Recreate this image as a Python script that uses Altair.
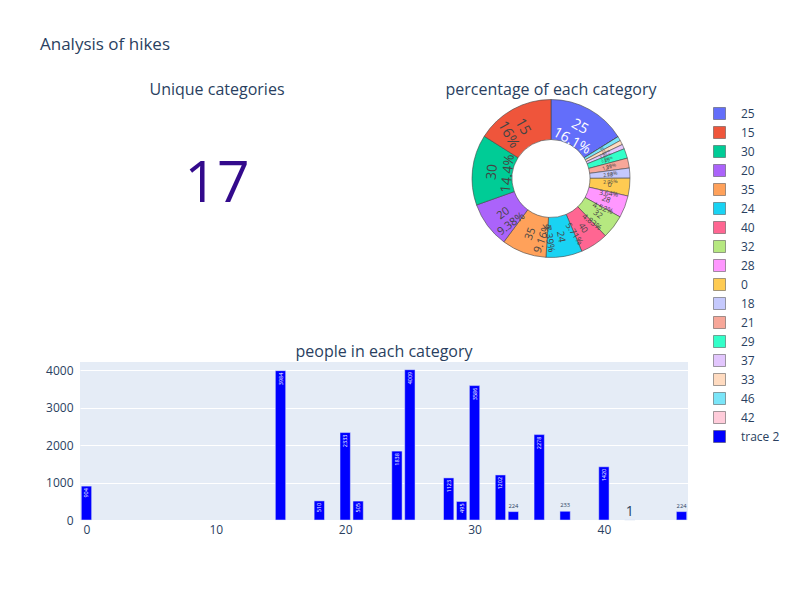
import math
import altair as alt
import pandas as pd

# ---------------- data ----------------
categories = [0, 15, 18, 20, 21, 24, 25, 28, 29, 30, 32, 33, 35, 37, 40, 42, 46]
people = [904, 3984, 510, 2333, 505, 1838, 4009, 1123, 495, 3586, 1202, 224, 2278, 233, 1420, 1, 224]

x_ticks = [0, 10, 20, 30, 40]
y_ticks = [0, 1000, 2000, 3000, 4000]

# plotly colorway + extended (lightened) pie colours, in legend order
pie_colors = ["#636efa", "#EF553B", "#00cc96", "#ab63fa", "#FFA15A", "#19d3f3",
              "#FF6692", "#B6E880", "#FF97FF", "#FECB52", "#c5c9fd", "#f7a799",
              "#33ffc9", "#e2c6fd", "#ffdbc0", "#7ae5f8", "#ffccda"]
bar_color = "#0000ff"
bar_series = "trace 2"

FONT = "Open Sans"
TXT = "#2a3f5f"
TANGENTIAL = {"25", "30"}

# ---------------- derived tables ----------------
df = pd.DataFrame({"cat": categories, "people": people})
df["label"] = df["cat"].astype(str)
total = df["people"].sum()

desc = df.sort_values("people", ascending=False, kind="stable").reset_index(drop=True)
legend_order = desc["label"].tolist()
clockwise = [legend_order[0]] + legend_order[1:][::-1]

pie = df.copy()
pie["ord"] = pie["label"].map({lab: i for i, lab in enumerate(clockwise)})
pie = pie.sort_values("ord").reset_index(drop=True)
pie["frac"] = pie["people"] / total
cum = pie["frac"].cumsum() - pie["frac"]
mid = (cum + pie["frac"] / 2) * 360.0


def norm(a):
    a = a % 360
    if a > 90 and a <= 270:
        a -= 180
    if a > 270:
        a -= 360
    return a % 360


rots = []
for lab, phi in zip(pie["label"], mid):
    rot = phi if lab in TANGENTIAL else phi - 90
    rots.append(norm(rot))
pie["rot"] = rots
pie["fs"] = 36 * pie["frac"].pow(0.5)
pie["txt"] = [f"{lab}\n{p * 100:.3g}%" for lab, p in zip(pie["label"], pie["frac"])]
col_of = dict(zip(legend_order, pie_colors))


def is_dark(hexc):
    h = hexc.lstrip("#")
    r, g, b = int(h[0:2], 16), int(h[2:4], 16), int(h[4:6], 16)
    return (r * 299 + g * 587 + b * 114) / 1000 < 128


pie["dark"] = [1 if is_dark(col_of[lab]) else 0 for lab in pie["label"]]

bar_df = df.copy()
bar_df["ltxt"] = bar_df["people"].astype(str)
bar_df["ofs"] = [min(14.0, 10.4 / (0.6 * len(s))) for s in bar_df["ltxt"]]

ind_df = pd.DataFrame({"n": [len(categories)]})

# panel geometry (top row is one 608 x 157 view holding both panels)
TOP_W, TOP_H = 608, 157
IND_CX = 137          # centre of the indicator panel
PIE_CX = 471          # centre of the pie panel
PIE_CY = 78.5


def panel_title(text, cx):
    return alt.Chart(ind_df).mark_text(
        text=text, fontSize=16, font=FONT, color=TXT, align="center",
        baseline="alphabetic"
    ).encode(x=alt.value(cx), y=alt.value(-5))


# ---------------- indicator ----------------
indicator = alt.Chart(ind_df).mark_text(
    fontSize=57, font=FONT, color="#330a8c", align="center", baseline="alphabetic"
).encode(text="n:Q", x=alt.value(IND_CX), y=alt.value(102))

# ---------------- pie ----------------
theta = alt.Theta("people:Q", stack=True)
order = alt.Order("ord:Q")
arcs = alt.Chart(pie).mark_arc(innerRadius=39, outerRadius=79, stroke="#444",
                               strokeWidth=0.6).encode(
    theta=theta, order=order,
    x=alt.value(PIE_CX), y=alt.value(PIE_CY),
    color=alt.Color("label:N",
                    scale=alt.Scale(domain=legend_order + [bar_series],
                                    range=pie_colors + [bar_color]),
                    legend=alt.Legend(title=None, orient="none", legendX=633, legendY=7,
                                      symbolType="square", symbolSize=144,
                                      symbolStrokeColor="#444", symbolStrokeWidth=0.5,
                                      symbolOpacity=1,
                                      labelFont=FONT, labelFontSize=12, labelColor=TXT,
                                      rowPadding=4, labelOffset=15, padding=0)),
)
labels = alt.Chart(pie).transform_filter("datum.frac > 0.002").mark_text(
    radius=59, lineBreak="\n", font=FONT, align="center", baseline="middle"
).encode(
    theta=theta, order=order,
    x=alt.value(PIE_CX), y=alt.value(PIE_CY),
    text="txt:N",
    angle=alt.Angle("rot:Q", scale=None),
    size=alt.Size("fs:Q", scale=None),
    color=alt.condition(alt.datum.dark == 1, alt.value("white"), alt.value("#444")),
)

top_row = alt.layer(
    panel_title("Unique categories", IND_CX),
    panel_title("percentage of each category", PIE_CX),
    indicator, arcs, labels,
).properties(width=TOP_W, height=TOP_H)

# ---------------- bars ----------------
xs = alt.Scale(domain=[-0.5, 46.5], nice=False, zero=False)
ys = alt.Scale(domain=[0, 4215], nice=False)
x_axis = alt.Axis(values=x_ticks, grid=False, ticks=False, tickSize=0, domain=False,
                  labelPadding=4, labelFont=FONT, labelFontSize=12,
                  labelColor=TXT, title=None)
y_axis = alt.Axis(values=y_ticks, grid=True, gridColor="white", gridWidth=1,
                  ticks=False, tickSize=0, domain=False, labelPadding=7, format="d",
                  labelFont=FONT, labelFontSize=12, labelColor=TXT, title=None,
                  labelOverlap=False)
bars = alt.Chart(bar_df).transform_calculate(
    lo="datum.cat - 0.4", hi="datum.cat + 0.4"
).mark_bar(color=bar_color, stroke="#E5ECF6", strokeWidth=0.5).encode(
    x=alt.X("lo:Q", scale=xs, axis=x_axis),
    x2="hi:Q",
    y=alt.Y("people:Q", scale=ys, axis=y_axis),
    y2=alt.datum(0),
)
inside = alt.Chart(bar_df).transform_filter("datum.people >= 300").mark_text(
    angle=270, align="right", baseline="middle", dx=-2, fontSize=5.5,
    color="white", font=FONT
).encode(x=alt.X("cat:Q", scale=xs, axis=x_axis),
         y=alt.Y("people:Q", scale=ys, axis=y_axis), text="ltxt:N")
outside = alt.Chart(bar_df).transform_filter("datum.people < 300").mark_text(
    align="center", baseline="alphabetic", dy=-4, color=TXT, font=FONT
).encode(x=alt.X("cat:Q", scale=xs, axis=x_axis),
         y=alt.Y("people:Q", scale=ys, axis=y_axis), text="ltxt:N",
         size=alt.Size("ofs:Q", scale=None))

bar_chart = alt.layer(bars, inside, outside).properties(
    width=608, height=158,
    view=alt.ViewBackground(fill="#E5ECF6", strokeWidth=0),
    title=alt.TitleParams("people in each category", fontSize=16, font=FONT, color=TXT,
                          fontWeight="normal", anchor="middle", frame="group", offset=2))

# ---------------- compose ----------------
chart = alt.vconcat(top_row, bar_chart, spacing=105, bounds="flush").properties(
    title=alt.TitleParams("Analysis of hikes", anchor="start", frame="group", dx=-40,
                          fontSize=17, font=FONT, color=TXT, fontWeight="normal",
                          offset=28),
    autosize=alt.AutoSizeParams(type="pad"),
    padding={"left": 40, "top": 36, "right": 10, "bottom": 60},
).configure_view(strokeWidth=0)

chart.save("out.html", embed_options={"renderer": "svg", "actions": False})
